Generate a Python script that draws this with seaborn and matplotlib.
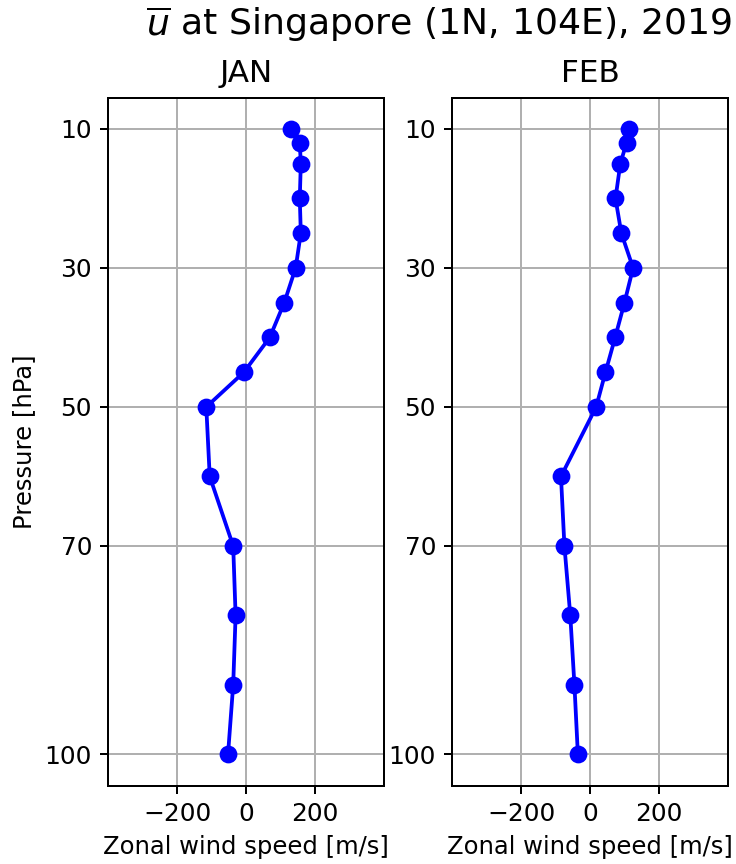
import matplotlib
matplotlib.use("Agg")
import matplotlib.pyplot as plt
import seaborn as sns
import pandas as pd

# Pressure levels [hPa]
pressure = [10, 12, 15, 20, 25, 30, 35, 40, 45, 50, 60, 70, 80, 90, 100]
# Zonal wind (as plotted) per level
u_jan = [131, 155, 158, 155, 158, 143, 110, 68, -7, -116, -106, -38, -31, -38, -53]
u_feb = [112, 105, 87, 73, 90, 124, 99, 72, 44, 17, -85, -75, -58, -46, -36]

months = ["JAN", "FEB"]
series = [u_jan, u_feb]
xticks = [-200, 0, 200]
yticks = [10, 30, 50, 70, 100]
suptitle = r"$\overline{u}$ at Singapore (1N, 104E), 2019"
xlabel = "Zonal wind speed [m/s]"
ylabel = "Pressure [hPa]"

plt.rcParams['font.family'] = ['DejaVu Sans']
plt.rcParams['xtick.labelsize'] = 11.2
plt.rcParams['ytick.labelsize'] = 11.2
plt.rcParams['axes.labelsize'] = 10.9
plt.rcParams['axes.titlesize'] = 14
plt.rcParams['axes.linewidth'] = 0.9
plt.rcParams['xtick.major.size'] = 3.8
plt.rcParams['ytick.major.size'] = 3.8
plt.rcParams['xtick.major.width'] = 0.9
plt.rcParams['ytick.major.width'] = 0.9
plt.rcParams['grid.linewidth'] = 0.9

DPI = 160
fig = plt.figure(figsize=(736 / DPI, 864 / DPI), dpi=DPI)

W, H = 736, 864
boxes = [(108.3, 384.3), (452.3, 728.3)]
top_px, bot_px = 97.7, 785.7

for i, (name, vals) in enumerate(zip(months, series)):
    l, r = boxes[i]
    ax = fig.add_axes([l / W, (H - bot_px) / H, (r - l) / W, (bot_px - top_px) / H])
    df = pd.DataFrame({"u": vals, "p": pressure})
    sns.lineplot(data=df, x="u", y="p", sort=False, estimator=None,
                 color="blue", marker="o", markersize=7,
                 markeredgecolor="blue", markeredgewidth=1,
                 linewidth=1.7, ax=ax, zorder=3)
    ax.set_xlim(-400, 400)
    ax.set_xticks(xticks)
    ax.set_yticks(yticks)
    ax.set_ylim(104.5, 5.5)
    ax.grid(True)
    ax.set_axisbelow(True)
    ax.set_title(name, pad=7)
    ax.set_xlabel(xlabel)
    if i == 0:
        ax.set_ylabel(ylabel)
    else:
        ax.set_ylabel("")

fig.text(438.5 / W, (H - 35) / H, suptitle, ha="center", va="baseline",
         fontsize=16.3)

fig.savefig("out.png", dpi=DPI)
